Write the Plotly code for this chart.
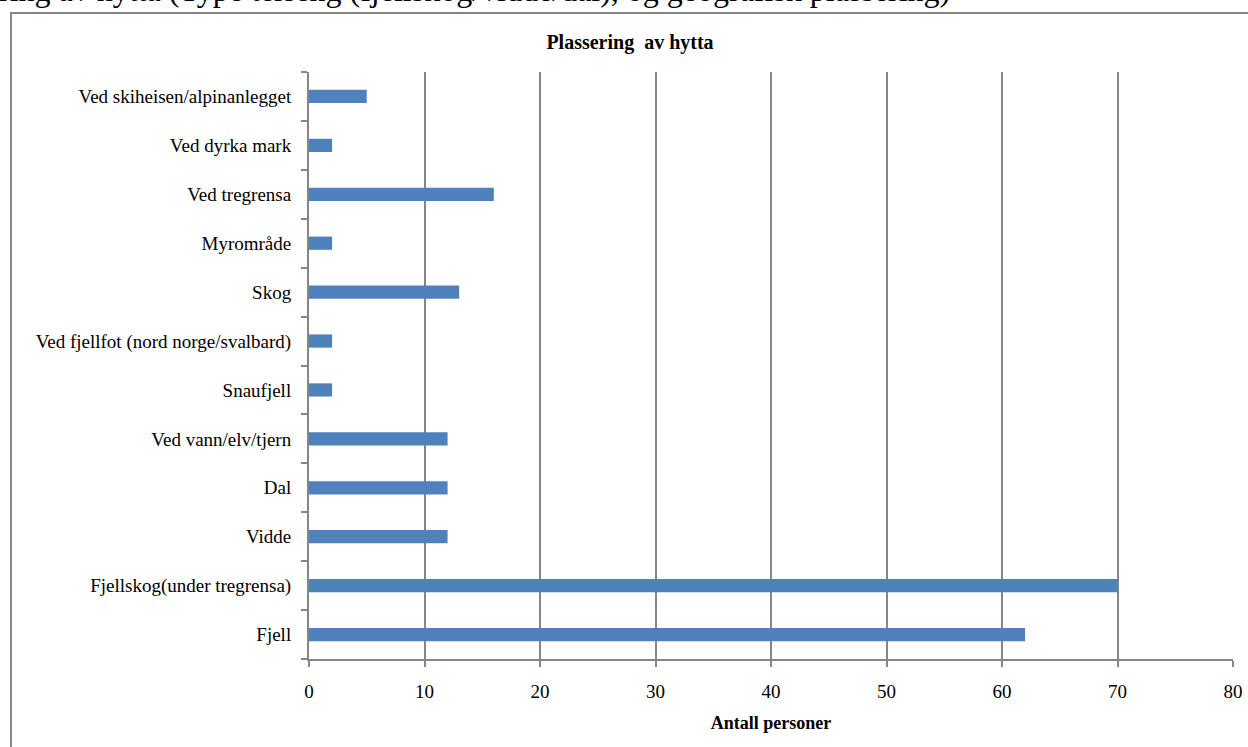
import plotly.graph_objects as go

categories = ["Fjell", "Fjellskog(under tregrensa)", "Vidde", "Dal", "Ved vann/elv/tjern",
              "Snaufjell", "Ved fjellfot (nord norge/svalbard)", "Skog", "Myrområde",
              "Ved tregrensa", "Ved dyrka mark", "Ved skiheisen/alpinanlegget"]
values = [62, 70, 12, 12, 12, 2, 2, 13, 2, 16, 2, 5]
x_ticks = [0, 10, 20, 30, 40, 50, 60, 70, 80]

W, H = 1248, 747
L, R, T, B = 309, 1233, 72, 659

font = "Liberation Serif"

fig = go.Figure(go.Bar(
    x=values, y=categories, orientation="h",
    marker=dict(color="#4F81BD", line=dict(width=0)),
))

fig.update_layout(
    width=W, height=H,
    margin=dict(l=L, r=W - R, t=T, b=H - B, pad=0, autoexpand=False),
    paper_bgcolor="white", plot_bgcolor="white",
    bargap=0.73, showlegend=False,
    font=dict(family=font, size=19, color="black"),
    title=dict(text="<b>Plassering  av hytta</b>", x=630 / W, xanchor="center",
               y=1 - 42 / H, yanchor="middle", font=dict(size=20, family=font, color="black")),
    xaxis=dict(range=[0, 80], tickvals=x_ticks, showgrid=True, gridcolor="#868686", gridwidth=2,
               showline=True, linecolor="#868686", linewidth=2, ticks="outside", ticklen=6,
               tickcolor="#868686", tickwidth=2, zeroline=False, automargin=False,
               ticklabelstandoff=8,
               title=dict(text="<b>Antall personer</b>", font=dict(size=18, family=font, color="black"),
                          standoff=16),
               tickfont=dict(size=19, family=font, color="black")),
    yaxis=dict(categoryorder="array", categoryarray=categories, showline=True,
               linecolor="#868686", linewidth=2, ticks="outside", ticklen=6, tickcolor="#868686",
               tickwidth=2, tickson="boundaries", showgrid=False, ticklabelstandoff=12,
               automargin=False, tickfont=dict(size=19, family=font, color="black")),
)

def px2x(px):
    return (px - L) / (R - L)

def py2y(py):
    return (B - py) / (B - T)

fig.add_shape(type="rect", xref="paper", yref="paper",
              x0=px2x(11), x1=px2x(1258), y0=py2y(770), y1=py2y(13),
              line=dict(color="#868686", width=2), fillcolor="rgba(0,0,0,0)", layer="below")

fig.add_annotation(text="ring av hytta (Type terreng (fjellskog/vidde/dal), og geografisk plassering)",
                   xref="paper", yref="paper", x=px2x(-3), y=py2y(10), xanchor="left", yanchor="bottom",
                   showarrow=False, font=dict(size=32, family=font, color="black"))

fig.write_html("out.html", config={"displayModeBar": False},
               post_script="document.body.style.margin='0';document.body.style.overflow='hidden';")
